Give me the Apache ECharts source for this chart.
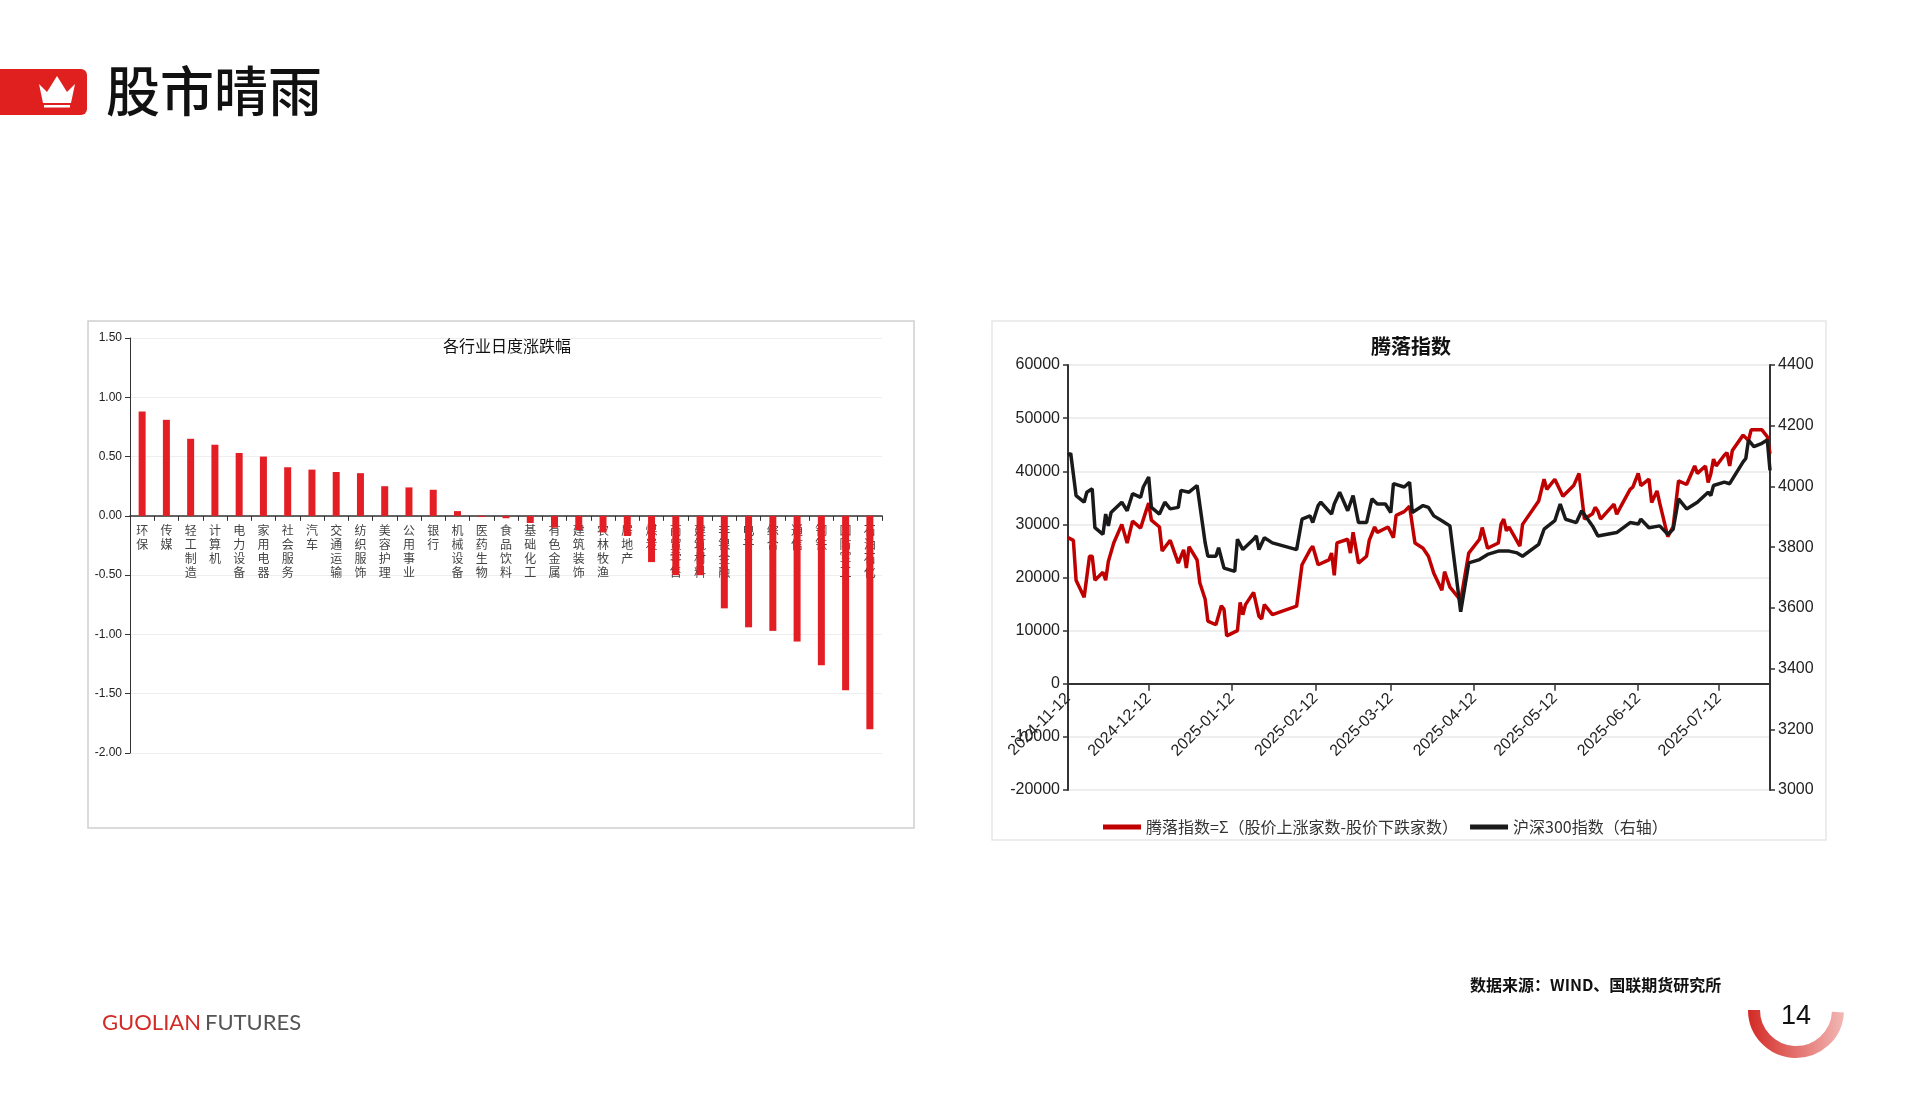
<!DOCTYPE html>
<html><head><meta charset="utf-8">
<script src="https://cdn.jsdelivr.net/npm/echarts@6/dist/echarts.min.js"></script>
<style>html,body{margin:0;padding:0;background:#fff}#c{width:1919px;height:1114px}</style>
</head><body><div id="c"></div>
<script>
const industries=['环保','传媒','轻工制造','计算机','电力设备','家用电器','社会服务','汽车','交通运输','纺织服饰','美容护理','公用事业','银行','机械设备','医药生物','食品饮料','基础化工','有色金属','建筑装饰','农林牧渔','房地产','煤炭','商贸零售','建筑材料','非银金融','电子','综合','通信','钢铁','国防军工','石油石化'];
const changes=[0.88,0.81,0.65,0.60,0.53,0.50,0.41,0.39,0.37,0.36,0.25,0.24,0.22,0.04,-0.01,-0.02,-0.06,-0.10,-0.12,-0.14,-0.17,-0.39,-0.50,-0.50,-0.78,-0.94,-0.97,-1.06,-1.26,-1.47,-1.80];
const adDates=['2024-11-12','2024-11-14','2024-11-15','2024-11-18','2024-11-20','2024-11-21','2024-11-22','2024-11-25','2024-11-26','2024-11-27','2024-11-29','2024-12-02','2024-12-04','2024-12-06','2024-12-09','2024-12-11','2024-12-12','2024-12-13','2024-12-16','2024-12-17','2024-12-20','2024-12-23','2024-12-25','2024-12-26','2024-12-27','2024-12-30','2024-12-31','2025-01-02','2025-01-03','2025-01-06','2025-01-08','2025-01-09','2025-01-10','2025-01-14','2025-01-15','2025-01-16','2025-01-17','2025-01-20','2025-01-22','2025-01-23','2025-01-24','2025-01-27','2025-02-05','2025-02-07','2025-02-10','2025-02-11','2025-02-13','2025-02-17','2025-02-18','2025-02-19','2025-02-20','2025-02-24','2025-02-25','2025-02-26','2025-02-28','2025-03-03','2025-03-04','2025-03-06','2025-03-07','2025-03-11','2025-03-13','2025-03-14','2025-03-17','2025-03-19','2025-03-21','2025-03-24','2025-03-26','2025-03-28','2025-03-31','2025-04-01','2025-04-03','2025-04-07','2025-04-10','2025-04-14','2025-04-15','2025-04-17','2025-04-21','2025-04-22','2025-04-23','2025-04-24','2025-04-25','2025-04-29','2025-04-30','2025-05-06','2025-05-08','2025-05-09','2025-05-12','2025-05-15','2025-05-19','2025-05-21','2025-05-23','2025-05-26','2025-05-27','2025-05-28','2025-05-29','2025-06-03','2025-06-04','2025-06-06','2025-06-09','2025-06-10','2025-06-12','2025-06-13','2025-06-16','2025-06-17','2025-06-19','2025-06-20','2025-06-23','2025-06-25','2025-06-27','2025-06-30','2025-07-03','2025-07-04','2025-07-07','2025-07-08','2025-07-09','2025-07-10','2025-07-11','2025-07-14','2025-07-15','2025-07-16','2025-07-17','2025-07-21','2025-07-23','2025-07-24','2025-07-28','2025-07-30','2025-07-31'];
const adValues=[27500,27000,19500,16300,24000,24000,19500,21000,19500,23000,26500,30000,26500,30600,29300,32500,34000,30800,29500,25000,27000,22700,25200,21800,25800,23300,19000,15900,11800,11100,14700,14000,9000,10000,15300,13000,14900,17200,12700,12200,14900,13000,14600,22400,25200,25900,22400,23300,24600,20400,26500,27200,24600,28500,22700,24000,27000,29500,28500,29500,27500,31700,32400,33400,26500,25500,24000,20800,17600,21100,18200,15700,24600,27200,29400,25500,26500,30000,31000,28800,29500,25900,30000,34400,38500,36600,38500,35300,37300,39600,31000,32000,33200,32500,31000,33800,31900,33800,36600,37000,39600,37300,38500,34100,36300,34000,27700,29600,38200,37500,41000,39600,41000,37900,39500,42300,41000,43000,43500,41000,43900,46800,45800,47800,47800,46500,43300];
const hsDates=['2024-11-12','2024-11-13','2024-11-15','2024-11-18','2024-11-19','2024-11-21','2024-11-22','2024-11-25','2024-11-26','2024-11-27','2024-11-28','2024-12-02','2024-12-04','2024-12-06','2024-12-09','2024-12-10','2024-12-12','2024-12-13','2024-12-16','2024-12-18','2024-12-20','2024-12-23','2024-12-24','2024-12-27','2024-12-30','2025-01-02','2025-01-03','2025-01-06','2025-01-07','2025-01-09','2025-01-13','2025-01-14','2025-01-16','2025-01-20','2025-01-21','2025-01-22','2025-01-24','2025-01-27','2025-02-05','2025-02-07','2025-02-10','2025-02-11','2025-02-13','2025-02-14','2025-02-18','2025-02-19','2025-02-21','2025-02-24','2025-02-26','2025-02-28','2025-03-03','2025-03-05','2025-03-07','2025-03-10','2025-03-12','2025-03-13','2025-03-17','2025-03-19','2025-03-20','2025-03-24','2025-03-26','2025-03-28','2025-03-31','2025-04-03','2025-04-07','2025-04-10','2025-04-14','2025-04-17','2025-04-21','2025-04-25','2025-04-28','2025-04-30','2025-05-06','2025-05-08','2025-05-12','2025-05-14','2025-05-16','2025-05-20','2025-05-22','2025-05-26','2025-05-28','2025-06-04','2025-06-09','2025-06-12','2025-06-13','2025-06-16','2025-06-20','2025-06-23','2025-06-25','2025-06-27','2025-06-30','2025-07-04','2025-07-08','2025-07-09','2025-07-10','2025-07-14','2025-07-16','2025-07-21','2025-07-22','2025-07-23','2025-07-25','2025-07-28','2025-07-30','2025-07-31'];
const hsValues=[4103,4109,3970,3948,3981,3992,3864,3842,3909,3870,3914,3948,3920,3976,3964,3998,4031,3931,3909,3948,3926,3931,3987,3981,4003,3814,3770,3770,3798,3731,3720,3826,3792,3826,3837,3792,3831,3814,3792,3892,3903,3881,3937,3948,3909,3942,3981,3920,3970,3881,3881,3959,3942,3942,3914,4009,3998,4014,3914,3937,3931,3903,3887,3870,3587,3748,3759,3776,3787,3787,3781,3770,3809,3859,3887,3942,3892,3881,3920,3870,3837,3848,3881,3876,3892,3864,3870,3842,3859,3959,3926,3948,3981,3970,4003,4014,4009,4081,4092,4153,4131,4142,4153,4053];
const dateTicks=['2024-11-12','2024-12-12','2025-01-12','2025-02-12','2025-03-12','2025-04-12','2025-05-12','2025-06-12','2025-07-12'];

const ts=s=>Date.UTC(+s.slice(0,4),+s.slice(5,7)-1,+s.slice(8,10));
const pad=n=>String(n).padStart(2,'0');
const fmt=v=>{const d=new Date(v);return d.getUTCFullYear()+'-'+pad(d.getUTCMonth()+1)+'-'+pad(d.getUTCDate());};
const cjk='"Noto Sans CJK SC", sans-serif';
const num='"Liberation Sans", Arial, sans-serif';
const G1H=415, G2H=425;
const chart=echarts.init(document.getElementById('c'));
chart.setOption({
  animation:false,
  graphic:[
    {type:'rect',shape:{x:0,y:69,width:87,height:46,r:[0,6,6,0]},style:{fill:'#e0201f'}},
    {type:'polygon',shape:{points:[[39,84],[47,92],[57,76],[67,92],[75,84],[71,103],[43,103]]},style:{fill:'#fff'}},
    {type:'rect',shape:{x:44,y:105,width:26,height:2.5},style:{fill:'#fff'}},
    {type:'text',left:106,top:64,style:{text:'股市晴雨',font:'500 54px '+cjk,fill:'#111'}},
    {type:'rect',shape:{x:88,y:321,width:826,height:507},style:{fill:'none',stroke:'#d0d0d0',lineWidth:1.5}},
    {type:'rect',shape:{x:992,y:321,width:834,height:519},style:{fill:'none',stroke:'#e6e6e6',lineWidth:1.5}},
    {type:'text',left:102,top:1012,style:{text:'GUOLIAN',font:'22px Lato, sans-serif',fill:'#d42a25'}},
    {type:'text',left:205,top:1012,style:{text:'FUTURES',font:'22px Lato, sans-serif',fill:'#555'}},
    {type:'text',left:1470,top:977,style:{text:'数据来源：WIND、国联期货研究所',font:'bold 16px '+cjk,fill:'#111'}},
    {type:'arc',shape:{cx:1796,cy:1010,r:42,startAngle:0.05,endAngle:Math.PI},
      style:{stroke:new echarts.graphic.LinearGradient(0,0,1,0,[{offset:0,color:'#d42a25'},{offset:1,color:'#f2b8b5'}]),lineWidth:12,fill:'none'}},
    {type:'text',left:1781,top:1003,style:{text:'14',font:'27px '+num,fill:'#111'}}
  ],
  title:[
    {text:'各行业日度涨跌幅',left:502,top:333,textAlign:'center',textStyle:{fontSize:16,fontWeight:'normal',color:'#111',fontFamily:cjk}},
    {text:'腾落指数',left:1406,top:331,textAlign:'center',textStyle:{fontSize:20,fontWeight:'bold',color:'#111',fontFamily:cjk}}
  ],
  legend:{left:1098,top:814,itemWidth:38,itemHeight:5,itemGap:12,icon:'rect',
    textStyle:{fontSize:16,color:'#333',fontFamily:cjk},data:['腾落指数=Σ（股价上涨家数-股价下跌家数）','沪深300指数（右轴）']},
  grid:[
    {left:130,top:338,width:752,height:G1H},
    {left:1068,top:365,width:702,height:G2H}
  ],
  xAxis:[
    {type:'category',gridIndex:0,data:industries,offset:-G1H*2/3.5,z:1,axisLine:{onZero:false,lineStyle:{color:'#333',width:1.5}},
     axisTick:{show:true,lineStyle:{color:'#333'}},
     axisLabel:{interval:0,fontSize:12,color:'#444',lineHeight:14,fontFamily:cjk,formatter:v=>v.split('').join('\n')}},
    {type:'value',gridIndex:1,min:ts('2024-11-12'),max:ts('2025-07-31'),offset:-G2H/4,
     axisLine:{onZero:false,lineStyle:{color:'#333',width:2}},
     axisTick:{show:true,customValues:dateTicks.map(ts),length:7,lineStyle:{color:'#333',width:1.5}},
     axisLabel:{customValues:dateTicks.map(ts),rotate:45,margin:12,fontSize:16,color:'#222',fontFamily:num,formatter:v=>fmt(v)},
     splitLine:{show:false}}
  ],
  yAxis:[
    {type:'value',gridIndex:0,min:-2,max:1.5,interval:0.5,axisLine:{show:true,lineStyle:{color:'#333'}},axisTick:{show:true},
     axisLabel:{fontSize:12,color:'#222',fontFamily:num,formatter:v=>v.toFixed(2)},splitLine:{lineStyle:{color:'#eee'}}},
    {type:'value',gridIndex:1,min:-20000,max:60000,interval:10000,axisLine:{show:true,lineStyle:{color:'#333',width:2}},axisTick:{show:true,lineStyle:{width:1.5}},
     axisLabel:{fontSize:16,color:'#222',fontFamily:num,formatter:v=>String(v)},splitLine:{lineStyle:{color:'#eee',width:2}}},
    {type:'value',gridIndex:1,position:'right',min:3000,max:4400,interval:200,axisLine:{show:true,lineStyle:{color:'#333',width:2}},axisTick:{show:true,lineStyle:{width:1.5}},
     axisLabel:{fontSize:16,color:'#222',fontFamily:num,formatter:v=>String(v)},splitLine:{show:false}}
  ],
  series:[
    {type:'bar',xAxisIndex:0,yAxisIndex:0,data:changes,barWidth:7,z:3,itemStyle:{color:'#e31e24'}},
    {name:'腾落指数=Σ（股价上涨家数-股价下跌家数）',type:'line',xAxisIndex:1,yAxisIndex:1,showSymbol:false,
     data:adDates.map((d,i)=>[ts(d),adValues[i]]),lineStyle:{color:'#c00000',width:3.5},itemStyle:{color:'#c00000'}},
    {name:'沪深300指数（右轴）',type:'line',xAxisIndex:1,yAxisIndex:2,showSymbol:false,
     data:hsDates.map((d,i)=>[ts(d),hsValues[i]]),lineStyle:{color:'#1a1a1a',width:3.5},itemStyle:{color:'#1a1a1a'}}
  ]
});
</script></body></html>
